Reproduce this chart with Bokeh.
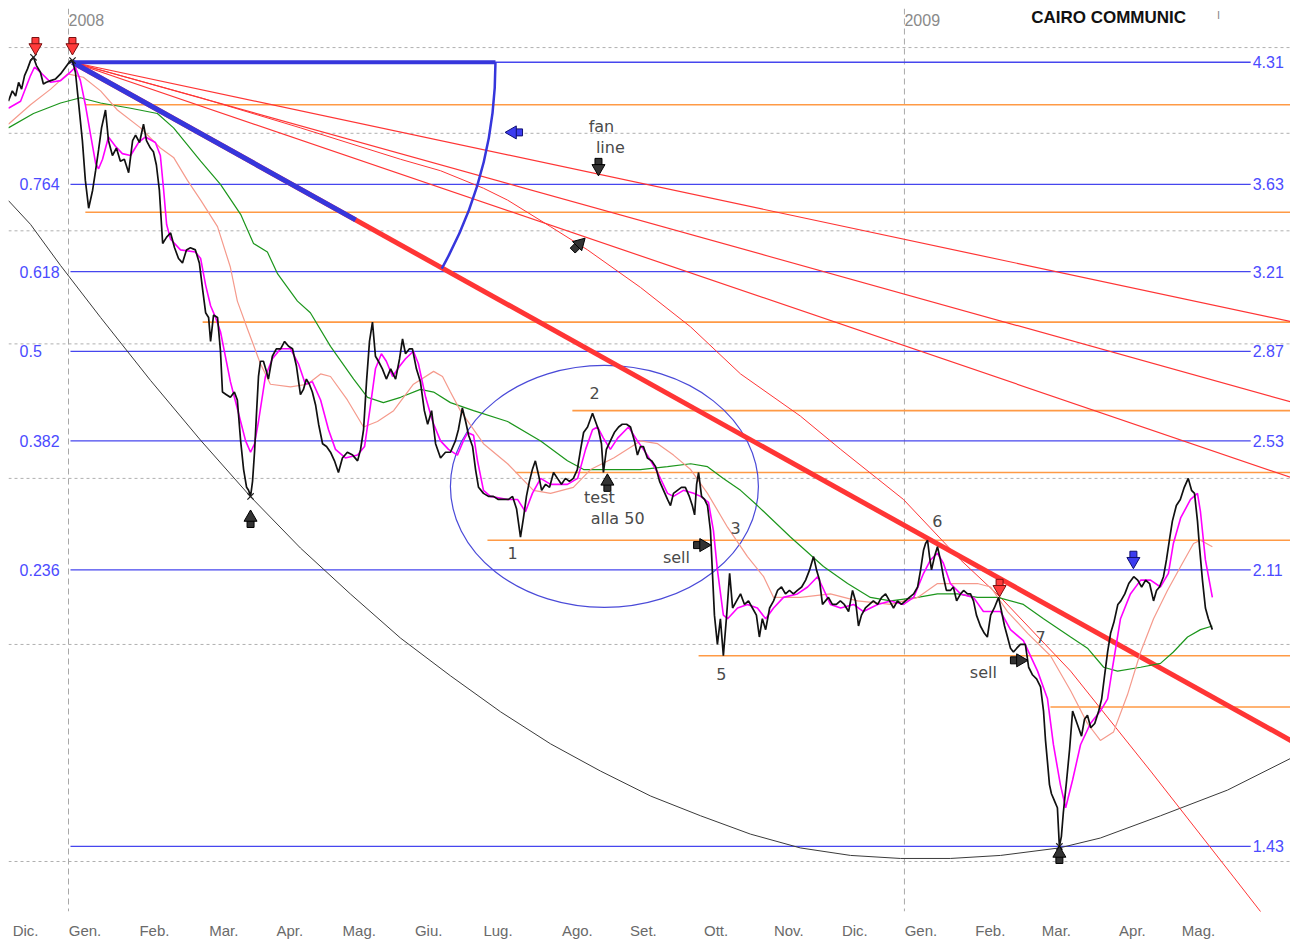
import numpy as np
from bokeh.plotting import figure
from bokeh.models import Range1d, FixedTicker, Span
from bokeh.core.properties import value
from bokeh.embed import file_html
from bokeh.resources import INLINE

# ---------------- data (x = trading day index from 2 Jan 2008, y = price) -------------
month_labels = ["Dic.", "Gen.", "Feb.", "Mar.", "Apr.", "Mag.", "Giu.", "Lug.", "Ago.",
                "Set.", "Ott.", "Nov.", "Dic.", "Gen.", "Feb.", "Mar.", "Apr.", "Mag."]
month_start = [-18, 0, 21, 42, 62, 83, 104, 125, 149, 169, 191, 213, 233, 253, 274, 294, 317, 337]
year_day = [0, 253]
year_labels = ["2008", "2009"]

close_day = [
    -18.2, -17.0, -16.0, -15.1, -14.2, -13.3, -12.4, -11.5, -10.6, -9.7,
    -8.5, -7.6, -6.7, -5.4, -3.9, -2.4, -0.9, 0.6, 1.2, 2.1,
    3.0, 4.2, 5.1, 6.1, 7.3, 8.2, 9.1, 10.0, 11.2, 12.1,
    13.3, 14.5, 15.7, 16.9, 18.2, 19.4, 20.3, 21.5, 22.7, 23.6,
    24.8, 25.7, 26.6, 27.5, 28.5, 29.7, 30.9, 32.1, 33.3, 34.5,
    35.7, 36.9, 38.4, 39.6, 40.6, 41.5, 42.4, 43.0, 43.9, 45.1,
    46.0, 46.6, 47.8, 49.0, 50.2, 51.1, 52.1, 53.0, 53.9, 54.5,
    55.1, 55.7, 56.3, 56.9, 57.5, 58.1, 59.0, 59.9, 60.5, 61.7,
    62.9, 64.2, 65.4, 66.6, 67.8, 69.0, 70.2, 71.1, 72.0, 72.9,
    73.8, 74.8, 75.7, 76.9, 78.1, 79.3, 80.5, 81.7, 82.9, 84.4,
    86.0, 87.5, 88.4, 89.3, 90.2, 91.1, 92.0, 92.9, 93.8, 95.0,
    96.2, 97.5, 99.0, 100.2, 101.1, 102.0, 103.2, 104.1, 105.3, 106.5,
    107.7, 108.7, 109.9, 111.1, 112.6, 114.1, 115.6, 117.1, 118.0, 119.2,
    120.2, 121.1, 122.3, 123.2, 124.1, 125.6, 127.1, 128.6, 130.1, 131.7,
    133.2, 134.4, 135.6, 136.8, 137.7, 138.6, 139.5, 140.4, 141.3, 142.3,
    143.2, 144.4, 145.6, 146.8, 148.0, 149.2, 150.4, 151.6, 152.8, 154.0,
    155.0, 155.9, 157.1, 158.0, 158.6, 159.5, 160.4, 161.3, 161.9, 162.8,
    164.0, 165.2, 166.5, 167.6, 168.9, 170.1, 171.3, 172.2, 173.1, 174.0,
    175.2, 176.5, 177.7, 178.9, 180.1, 181.3, 182.2, 183.1, 184.3, 185.5,
    186.7, 187.9, 188.8, 189.5, 190.1, 190.7, 191.6, 192.5, 193.4, 194.3,
    194.9, 195.5, 196.4, 197.3, 198.2, 199.2, 200.1, 201.0, 202.2, 203.4,
    204.6, 205.8, 207.0, 208.2, 209.1, 210.0, 211.0, 212.2, 213.4, 214.6,
    215.8, 217.0, 218.2, 219.4, 220.6, 221.9, 223.1, 224.3, 225.5, 226.4,
    227.3, 228.2, 229.1, 230.0, 231.2, 232.4, 233.6, 234.8, 236.1, 237.3,
    238.2, 239.1, 240.0, 241.2, 242.4, 243.6, 244.9, 246.1, 247.3, 248.5,
    249.7, 250.9, 252.1, 253.3, 254.5, 255.8, 257.0, 257.9, 258.8, 259.4,
    260.0, 260.6, 261.2, 262.1, 263.0, 263.9, 264.8, 265.7, 266.9, 267.8,
    268.8, 270.0, 270.9, 272.1, 273.0, 273.9, 274.8, 276.0, 277.2, 278.1,
    279.1, 280.2, 281.5, 282.4, 283.3, 284.2, 285.1, 286.0, 287.0, 288.1,
    289.6, 290.6, 291.8, 293.0, 294.2, 295.1, 295.7, 296.3, 296.9, 297.5,
    298.1, 298.7, 299.3, 299.9, 300.5, 301.1, 302.1, 303.0, 303.9, 304.8,
    305.7, 306.6, 307.5, 308.4, 309.4, 310.6, 311.8, 312.7, 313.6, 314.5,
    315.4, 316.4, 317.6, 318.5, 319.7, 320.9, 322.4, 323.6, 324.8, 326.0,
    327.2, 328.4, 329.3, 330.2, 331.4, 332.3, 333.2, 334.1, 335.3, 336.5,
    337.7, 338.9, 339.9, 340.8, 341.7, 342.3, 343.2, 344.1, 345.0, 346.2]
close_price = [
    4.08, 4.14, 4.11, 4.19, 4.15, 4.23, 4.27, 4.32, 4.34, 4.29,
    4.25, 4.18, 4.19, 4.20, 4.21, 4.24, 4.28, 4.32, 4.32, 4.25,
    4.08, 3.86, 3.65, 3.51, 3.60, 3.70, 3.81, 3.93, 4.03, 3.86,
    3.78, 3.82, 3.75, 3.76, 3.69, 3.86, 3.89, 3.85, 3.95, 3.86,
    3.82, 3.80, 3.73, 3.60, 3.34, 3.37, 3.39, 3.32, 3.27, 3.25,
    3.31, 3.32, 3.31, 3.25, 3.13, 3.03, 3.01, 2.91, 3.02, 3.01,
    2.87, 2.71, 2.70, 2.69, 2.71, 2.68, 2.53, 2.43, 2.37, 2.36,
    2.34, 2.39, 2.49, 2.63, 2.77, 2.83, 2.83, 2.79, 2.76, 2.85,
    2.88, 2.88, 2.91, 2.89, 2.88, 2.81, 2.70, 2.72, 2.76, 2.74,
    2.71, 2.66, 2.59, 2.52, 2.51, 2.49, 2.46, 2.42, 2.47, 2.49,
    2.48, 2.46, 2.50, 2.57, 2.75, 2.91, 2.99, 2.85, 2.83, 2.80,
    2.76, 2.80, 2.76, 2.84, 2.92, 2.86, 2.88, 2.88, 2.80, 2.75,
    2.64, 2.59, 2.64, 2.52, 2.47, 2.49, 2.49, 2.53, 2.57, 2.65,
    2.60, 2.55, 2.51, 2.43, 2.37, 2.35, 2.34, 2.34, 2.33, 2.33,
    2.33, 2.34, 2.30, 2.21, 2.27, 2.34, 2.39, 2.43, 2.46, 2.41,
    2.36, 2.38, 2.37, 2.42, 2.40, 2.38, 2.40, 2.39, 2.40, 2.43,
    2.50, 2.56, 2.58, 2.61, 2.63, 2.60, 2.57, 2.52, 2.42, 2.50,
    2.53, 2.56, 2.58, 2.59, 2.59, 2.58, 2.53, 2.48, 2.51, 2.51,
    2.47, 2.46, 2.44, 2.39, 2.36, 2.33, 2.31, 2.35, 2.36, 2.37,
    2.37, 2.34, 2.31, 2.28, 2.38, 2.42, 2.34, 2.33, 2.31, 2.23,
    2.10, 1.98, 1.90, 1.97, 1.87, 1.98, 2.10, 2.00, 2.02, 2.04,
    2.01, 2.02, 2.00, 1.98, 1.92, 1.97, 1.94, 2.00, 2.02, 2.05,
    2.06, 2.04, 2.05, 2.04, 2.05, 2.06, 2.08, 2.11, 2.15, 2.11,
    2.08, 2.01, 2.02, 2.03, 2.01, 2.01, 2.02, 2.01, 1.99, 2.05,
    2.02, 1.95, 1.98, 2.00, 2.01, 2.02, 2.01, 2.03, 2.04, 2.02,
    2.00, 2.02, 2.01, 2.02, 2.03, 2.04, 2.06, 2.11, 2.17, 2.19,
    2.20, 2.15, 2.11, 2.15, 2.18, 2.14, 2.09, 2.05, 2.05, 2.06,
    2.02, 2.04, 2.05, 2.04, 2.04, 2.02, 1.98, 1.95, 1.93, 1.92,
    1.98, 2.00, 2.03, 1.99, 1.95, 1.92, 1.89, 1.88, 1.89, 1.90,
    1.90, 1.84, 1.82, 1.81, 1.79, 1.73, 1.66, 1.61, 1.56, 1.54,
    1.53, 1.52, 1.51, 1.43, 1.45, 1.50, 1.57, 1.64, 1.73, 1.71,
    1.69, 1.67, 1.71, 1.72, 1.69, 1.70, 1.73, 1.76, 1.82, 1.88,
    1.93, 1.96, 2.01, 2.02, 2.04, 2.07, 2.09, 2.08, 2.06, 2.08,
    2.07, 2.02, 2.05, 2.06, 2.09, 2.14, 2.20, 2.26, 2.31, 2.33,
    2.37, 2.40, 2.36, 2.35, 2.26, 2.18, 2.08, 2.00, 1.97, 1.94]

ma_fast_day = [
    -18.2, -14.5, -11.5, -10.3, -8.5, -5.4, -2.4, 0.0, 2.1, 3.6,
    5.1, 6.7, 8.2, 9.1, 10.3, 12.1, 14.2, 16.3, 18.8, 21.2,
    23.3, 26.3, 27.8, 28.8, 29.7, 30.9, 33.9, 38.4, 40.0, 41.5,
    43.0, 44.5, 46.0, 49.0, 52.1, 53.6, 55.1, 56.3, 57.5, 59.6,
    61.7, 64.2, 67.2, 69.6, 71.7, 73.8, 76.3, 78.7, 80.8, 83.8,
    87.5, 89.6, 91.4, 92.9, 94.7, 96.2, 98.1, 100.2, 102.0, 104.4,
    105.9, 108.1, 110.2, 112.6, 115.0, 117.7, 119.5, 120.8, 122.6, 123.8,
    125.6, 127.7, 132.9, 135.9, 138.3, 140.4, 142.9, 145.9, 151.0, 154.1,
    156.5, 158.6, 160.1, 161.9, 164.0, 166.2, 169.5, 172.2, 175.2, 178.3,
    181.3, 183.1, 186.1, 189.2, 191.3, 193.7, 195.2, 196.4, 198.2, 199.5,
    202.5, 205.5, 208.5, 211.0, 213.4, 216.4, 220.6, 223.7, 226.7, 228.2,
    230.6, 233.7, 237.6, 240.6, 244.9, 248.8, 252.7, 255.8, 258.8, 260.9,
    263.0, 264.8, 266.9, 270.0, 273.9, 276.9, 280.0, 282.1, 285.1, 289.0,
    293.3, 296.3, 298.1, 300.2, 301.8, 303.9, 306.3, 309.3, 312.3, 314.5,
    316.0, 318.4, 321.4, 324.5, 327.5, 330.5, 332.9, 334.4, 336.6, 339.6,
    341.7, 342.6, 344.1, 346.2]
ma_fast = [
    4.04, 4.08, 4.23, 4.28, 4.25, 4.19, 4.20, 4.24, 4.28, 4.20,
    4.06, 3.89, 3.74, 3.71, 3.76, 3.88, 3.83, 3.79, 3.78, 3.85,
    3.88, 3.85, 3.78, 3.60, 3.43, 3.36, 3.31, 3.30, 3.27, 3.15,
    3.06, 3.01, 2.95, 2.75, 2.60, 2.53, 2.49, 2.52, 2.60, 2.77,
    2.84, 2.88, 2.88, 2.82, 2.74, 2.75, 2.68, 2.57, 2.50, 2.47,
    2.48, 2.51, 2.66, 2.80, 2.86, 2.83, 2.77, 2.81, 2.84, 2.87,
    2.82, 2.69, 2.60, 2.53, 2.50, 2.48, 2.53, 2.56, 2.55, 2.46,
    2.36, 2.34, 2.33, 2.33, 2.29, 2.35, 2.40, 2.38, 2.38, 2.40,
    2.50, 2.57, 2.58, 2.54, 2.50, 2.54, 2.58, 2.53, 2.48, 2.42,
    2.35, 2.34, 2.36, 2.35, 2.34, 2.32, 2.23, 2.11, 1.98, 1.97,
    2.00, 2.01, 2.00, 1.97, 2.00, 2.03, 2.04, 2.06, 2.09, 2.06,
    2.01, 2.00, 2.01, 1.99, 2.01, 2.02, 2.01, 2.03, 2.10, 2.14,
    2.16, 2.13, 2.07, 2.04, 2.03, 1.99, 1.99, 1.99, 1.94, 1.91,
    1.83, 1.76, 1.65, 1.56, 1.51, 1.57, 1.65, 1.70, 1.73, 1.76,
    1.84, 1.97, 2.04, 2.08, 2.08, 2.06, 2.10, 2.19, 2.27, 2.33,
    2.35, 2.29, 2.14, 2.03]

ma_mid_day = [
    -18.2, -11.5, -5.4, -0.3, 4.5, 9.7, 14.8, 21.8, 27.8, 31.8,
    36.0, 40.0, 45.1, 49.0, 51.1, 54.2, 58.1, 61.1, 67.2, 72.3,
    76.3, 79.3, 84.4, 89.3, 93.5, 98.4, 104.4, 110.5, 113.2, 115.6,
    118.6, 125.6, 132.9, 140.7, 145.9, 152.8, 158.0, 165.0, 173.1, 178.3,
    183.1, 188.3, 193.4, 199.5, 205.5, 210.4, 213.4, 221.5, 230.6, 238.8,
    248.8, 257.0, 263.0, 269.1, 275.1, 279.1, 284.2, 290.3, 297.2, 303.3,
    308.4, 312.3, 316.3, 320.5, 324.5, 328.4, 332.6, 336.6, 340.5, 342.6,
    346.2]
ma_mid = [
    3.95, 4.06, 4.15, 4.24, 4.22, 4.14, 4.03, 3.93, 3.82, 3.77,
    3.65, 3.55, 3.42, 3.23, 3.08, 2.96, 2.82, 2.74, 2.73, 2.74,
    2.78, 2.77, 2.68, 2.58, 2.60, 2.64, 2.74, 2.79, 2.77, 2.71,
    2.64, 2.52, 2.45, 2.36, 2.35, 2.37, 2.43, 2.47, 2.53, 2.52,
    2.48, 2.43, 2.35, 2.24, 2.15, 2.09, 2.03, 2.03, 2.04, 2.02,
    2.01, 2.03, 2.07, 2.07, 2.07, 2.06, 1.99, 1.93, 1.87, 1.78,
    1.70, 1.66, 1.68, 1.77, 1.88, 1.97, 2.05, 2.12, 2.19, 2.20,
    2.18]

ma_slow_day = [
    -18.2, -10.6, -2.4, 3.6, 9.7, 18.8, 26.9, 31.8, 40.0, 46.0,
    52.1, 56.0, 60.2, 63.3, 69.3, 73.2, 79.3, 86.3, 90.5, 95.3,
    100.5, 106.5, 110.5, 115.6, 122.6, 132.9, 142.9, 151.0, 155.9, 163.1,
    173.1, 181.3, 188.3, 193.4, 198.2, 203.4, 208.5, 218.5, 228.5, 235.8,
    242.7, 248.8, 257.0, 263.0, 269.1, 275.1, 281.2, 289.0, 295.1, 303.3,
    308.4, 313.3, 317.5, 324.5, 330.5, 334.4, 338.7, 342.6, 346.2]
ma_slow = [
    3.93, 4.01, 4.07, 4.10, 4.07, 4.04, 4.01, 3.93, 3.75, 3.63,
    3.48, 3.34, 3.30, 3.20, 3.08, 3.03, 2.89, 2.76, 2.69, 2.67,
    2.69, 2.72, 2.71, 2.67, 2.64, 2.60, 2.53, 2.46, 2.43, 2.43,
    2.43, 2.44, 2.45, 2.44, 2.40, 2.36, 2.31, 2.21, 2.12, 2.07,
    2.03, 2.02, 2.03, 2.04, 2.04, 2.03, 2.03, 2.01, 1.97, 1.92,
    1.89, 1.84, 1.83, 1.84, 1.85, 1.88, 1.92, 1.94, 1.95]

# Fibonacci retracement levels (price) and their ratio labels
fib_levels = [4.31, 3.63, 3.21, 2.87, 2.53, 2.11, 1.43]
fib_level_labels = ["4.31", "3.63", "3.21", "2.87", "2.53", "2.11", "1.43"]
fib_ratio_levels = [3.63, 3.21, 2.87, 2.53, 2.11]
fib_ratio_labels = ["0.764", "0.618", "0.5", "0.382", "0.236"]

# orange support / resistance lines: price and starting day
sr_levels = [4.06, 3.49, 2.99, 2.64, 2.42, 2.20, 1.87, 1.74]
sr_start = [5.1, 5.1, 40.6, 152.5, 135.3, 126.8, 190.7, 297.2]

grid_prices = [1.4, 1.9, 2.4, 2.9, 3.4, 3.9, 4.4]

# fan lines from the January 2008 top
pivot_day, pivot_price = 1.2, 4.31
fan_end_day = 370.8
fan_end_prices = [2.99, 2.67, 2.40]
trend_end_price = 1.656
trend_blue_end_day = 86.9

curve_day = [1.2, 40.0, 70.2, 100.5, 112.6, 125.6, 132.9, 145.9, 157.1, 173.1,
             188.3, 203.4, 221.5, 233.7, 252.7, 270.0, 282.1, 303.3, 327.5, 352.6, 361.4]
curve_price = [4.31, 4.10, 3.93, 3.76, 3.70, 3.61, 3.55, 3.42, 3.31, 3.14,
               2.97, 2.78, 2.62, 2.50, 2.33, 2.14, 2.03, 1.83, 1.59, 1.37, 1.30]

# big black arc (support curve)
arc_day = [-18.2, -11.5, -2.4, 9.7, 24.8, 40.0, 55.1, 70.2, 85.3, 100.5,
           115.6, 130.8, 145.9, 161.0, 176.2, 191.3, 206.4, 221.5, 236.7, 251.8,
           266.9, 282.1, 299.9, 312.3, 330.5, 350.8, 370.8]
arc_price = [3.548, 3.431, 3.238, 3.010, 2.755, 2.532, 2.339, 2.176, 2.040, 1.917,
             1.818, 1.728, 1.652, 1.590, 1.535, 1.493, 1.455, 1.427, 1.412, 1.406,
             1.406, 1.412, 1.427, 1.447, 1.493, 1.548, 1.622]

ellipse_day, ellipse_price = 162.2, 2.373

cross_day = [-10.6, 1.2, 55.1, 299.9]
cross_price = [4.34, 4.32, 2.34, 1.43]

arrow_day = [-10.0, 1.2, 281.8, 322.3, 135.3, 160.4, 154.1, 55.1, 163.1, 299.9, 191.3, 287.2]
arrow_price = [4.419, 4.419, 2.062, 2.145, 3.905, 3.728, 3.330, 2.262, 2.380, 1.410, 2.185, 1.858]
arrow_dir = ["down", "down", "down", "down", "left", "down", "upright", "up", "up", "up", "right", "right"]
arrow_kind = ["red", "red", "red", "blue", "blue", "black", "black", "black", "black", "black", "black", "black"]

note_text = ["fan", "line", "2", "1", "test", "alla 50", "3", "sell", "5", "6", "7", "sell"]
note_day = [161.3, 164.0, 159.2, 134.4, 160.7, 166.2, 201.9, 184.0, 197.6, 263.0, 294.2, 276.9]
note_price = [3.938, 3.823, 2.705, 2.160, 2.337, 2.268, 2.237, 2.148, 1.822, 2.259, 1.919, 1.827]

title_text = "CAIRO COMMUNIC"

# ---------------- figure ----------------
PX_PER_DAY = 3.304
PX_PER_LN = 710.8

p = figure(frame_width=1282, frame_height=903,
           x_range=Range1d(-18.16, 369.85), y_range=Range1d(1.3049, 4.6486),
           y_axis_type="log", y_axis_location=None,
           toolbar_location=None, output_backend="svg",
           min_border_left=8, min_border_right=0, min_border_top=8, min_border_bottom=0,
           background_fill_color="white", border_fill_color="white",
           outline_line_color=None)
p.xgrid.visible = False
p.ygrid.visible = False

tick_pos = [m + 5 for m in month_start]
p.xaxis.ticker = FixedTicker(ticks=tick_pos)
p.xaxis.major_label_overrides = {t: lab for t, lab in zip(tick_pos, month_labels)}
p.xaxis.axis_line_color = None
p.xaxis.major_tick_line_color = None
p.xaxis.minor_tick_line_color = None
p.xaxis.major_label_standoff = 4
p.xaxis.major_label_text_font = "Liberation Sans"
p.xaxis.major_label_text_font_size = "15px"
p.xaxis.major_label_text_color = "#6a6a6a"

BLUE = "#4646ee"
ORANGE = "#ff9a45"
RED = "#ff3535"

for gp in grid_prices:
    p.add_layout(Span(location=gp, dimension="width", line_color="#b0b0b0",
                      line_dash="3 3", line_width=1, level="underlay"))
for yd in year_day:
    p.add_layout(Span(location=yd, dimension="height", line_color="#a8a8a8",
                      line_dash="6 4", line_width=1, level="underlay"))

# orange S/R lines
p.segment(x0=sr_start, y0=sr_levels, x1=[369.85] * len(sr_levels), y1=sr_levels,
          line_color=ORANGE, line_width=1.6)
# fib levels
p.segment(x0=[0.6] * len(fib_levels), y0=fib_levels, x1=[357.8] * len(fib_levels), y1=fib_levels,
          line_color=BLUE, line_width=1.3)

# ellipse
p.ellipse(x=[ellipse_day], y=[ellipse_price], width=308, height=242,
          width_units="screen", height_units="screen",
          fill_color=None, line_color="#4a4ad8", line_width=1.2)

# black arc
p.line(arc_day, arc_price, line_color="#3a3a3a", line_width=1)

# fan lines
for fp in fan_end_prices:
    p.line([pivot_day, fan_end_day], [pivot_price, fp], line_color=RED, line_width=1.2)
p.line(curve_day, curve_price, line_color=RED, line_width=1)
p.line([pivot_day, fan_end_day], [pivot_price, trend_end_price], line_color=RED, line_width=5)
blue_end_price = float(np.exp(np.log(pivot_price) + (trend_blue_end_day - pivot_day) / (fan_end_day - pivot_day)
                              * (np.log(trend_end_price) - np.log(pivot_price))))
p.line([pivot_day, trend_blue_end_day], [pivot_price, blue_end_price], line_color="#3636dc", line_width=5)

# Gann box top and arc
radius_px = 423
p.line([pivot_day, pivot_day + radius_px / PX_PER_DAY], [pivot_price, pivot_price],
       line_color="#3636dc", line_width=4)
ang = float(np.arctan(0.5586))
p.arc(x=[pivot_day], y=[pivot_price], radius=radius_px, radius_units="screen",
      start_angle=-ang, end_angle=0.0, line_color="#3636dc", line_width=2.5)

# moving averages and price
p.line(ma_slow_day, ma_slow, line_color="#1c961c", line_width=1.2)
p.line(ma_mid_day, ma_mid, line_color="#f59a8c", line_width=1.2)
p.line(ma_fast_day, ma_fast, line_color="#ff00ff", line_width=1.6)
p.line(close_day, close_price, line_color="#111111", line_width=1.7)

# cross markers
p.scatter(cross_day, cross_price, marker="x", size=9, line_color="#222222", line_width=1.2)

# block arrows: triangle head + square stem
vecs = {"down": (0, 1), "up": (0, -1), "right": (1, 0), "left": (-1, 0), "upright": (0.7071, -0.7071)}
angs = {"down": np.pi, "up": 0.0, "right": -np.pi / 2, "left": np.pi / 2, "upright": -np.pi / 4}
fills = {"red": ("#ff3b3b", "#7a1010"), "blue": ("#3c3cf0", "#101070"), "black": ("#333333", "#000000")}
hx, hy, sx, sy, an, fc, lc = [], [], [], [], [], [], []
for d, pr, dr, k in zip(arrow_day, arrow_price, arrow_dir, arrow_kind):
    vx, vy = vecs[dr]
    hx.append(d + 3.0 * vx / PX_PER_DAY)
    hy.append(pr * np.exp(-3.0 * vy / PX_PER_LN))
    sx.append(d - 3.5 * vx / PX_PER_DAY)
    sy.append(pr * np.exp(3.5 * vy / PX_PER_LN))
    an.append(angs[dr])
    fc.append(fills[k][0])
    lc.append(fills[k][1])
p.scatter(sx, sy, marker="square", size=7, angle=an, fill_color=fc, line_color=lc, line_width=1)
p.scatter(hx, hy, marker="triangle", size=13, angle=an, fill_color=fc, line_color=lc, line_width=1)

# texts
p.text(x=note_day, y=note_price, text=note_text, text_font=value("DejaVu Sans"),
       text_font_size=value("16px"), text_color="#4a4a4a", text_align="center", text_baseline="middle")
p.text(x=[358.4] * len(fib_levels), y=fib_levels, text=fib_level_labels,
       text_font=value("Liberation Sans"), text_font_size=value("16px"), text_color="#4b4bff",
       text_align="left", text_baseline="middle")
p.text(x=[-14.8] * len(fib_ratio_levels), y=fib_ratio_levels, text=fib_ratio_labels,
       text_font=value("Liberation Sans"), text_font_size=value("16px"), text_color="#4b4bff",
       text_align="left", text_baseline="middle")
p.text(x=[yd + 5.4 for yd in year_day], y=[4.571, 4.571], text=year_labels,
       text_font=value("Liberation Sans"), text_font_size=value("16px"), text_color="#8a8a8a",
       text_align="center", text_baseline="middle")
p.text(x=[314.8], y=[4.590], text=[title_text], text_font=value("Liberation Sans"),
       text_font_size=value("17px"), text_font_style="bold", text_color="#111111",
       text_align="center", text_baseline="middle")
p.text(x=[348.1], y=[4.609], text=["I"], text_font=value("Liberation Sans"),
       text_font_size=value("11px"), text_color="#888888", text_align="center", text_baseline="middle")

open("out.html", "w").write(file_html(p, INLINE))
